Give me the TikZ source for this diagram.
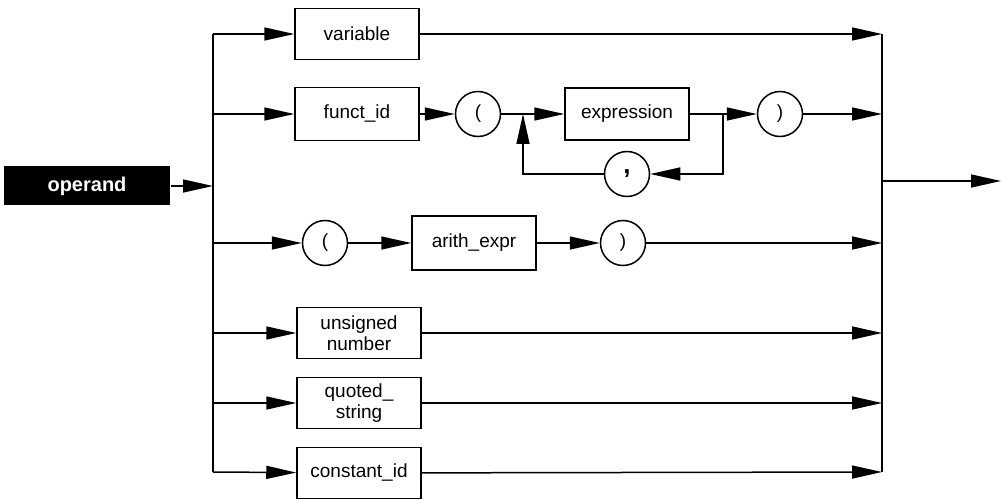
\documentclass[tikz,border=0pt]{standalone}
\usepackage{fontspec}
\setmainfont{Liberation Sans}
\usetikzlibrary{arrows.meta}
\begin{document}
\begin{tikzpicture}[x=1pt,y=-1pt,
  line width=1.5pt,
  every node/.style={font=\fontsize{19}{21}\selectfont},
  ntbox/.style={draw, rectangle, minimum width=124pt, minimum height=51pt, inner sep=0pt, align=center},
  term/.style={draw, circle, minimum size=45pt, inner sep=0pt},
  arr/.style={-{Triangle[length=30pt,width=13pt]}},
  lab/.style={fill=black, text=white, minimum width=166pt, minimum height=39pt, inner sep=0pt, font=\fontsize{20}{22}\selectfont\bfseries}
]
\useasboundingbox (0,0) rectangle (1002,500);
% start label
\node[lab] (op) at (87,186) {operand};
% bars
\coordinate (Lop) at (213,186);
\coordinate (L1) at (213,34);
\coordinate (L2) at (213,114);
\coordinate (L3) at (213,243);
\coordinate (L4) at (213,333);
\coordinate (L5) at (213,403);
\coordinate (L6) at (213,472);
\coordinate (R1) at (882,34);
\coordinate (R2) at (882,114);
\coordinate (R3) at (882,243);
\coordinate (R4) at (882,333);
\coordinate (R5) at (882,403);
\coordinate (R6) at (882,472);
\coordinate (Rout) at (882,181);
\coordinate (Out) at (1001,181);
\draw (L1) -- (L6);
\draw (R1) -- (R6);
\draw[arr] (op) -- (Lop);
\draw[arr] (Rout) -- (Out);
% row 1
\node[ntbox] (var) at (357,34) {variable};
\draw[arr] (L1) -- (var);
\draw[arr] (var) -- (R1);
% row 2
\node[ntbox, minimum height=53pt] (fid) at (357,114) {funct\_id};
\node[term] (lp1) at (478,114) {(};
\coordinate (J1) at (523,114);
\node[ntbox, minimum height=52pt] (expr) at (627,114) {expression};
\coordinate (J2) at (723,114);
\node[term] (rp1) at (780,114) {)};
\node[term] (comma) at (627,174) {\fontsize{26}{26}\selectfont\bfseries ,};
\draw[arr] (L2) -- (fid);
\draw[arr] (fid) -- (lp1);
\draw (lp1) -- (J1);
\draw[arr] (J1) -- (expr);
\draw (expr) -- (J2);
\draw[arr] (J2) -- (rp1);
\draw[arr] (rp1) -- (R2);
\draw[arr] (J2) |- (comma);
\draw[arr] (comma) -| (J1);
% row 3
\node[term] (lp2) at (325,243) {(};
\node[ntbox, minimum height=54pt] (arith) at (474,243) {arith\_expr};
\node[term] (rp2) at (623,243) {)};
\draw[arr] (L3) -- (lp2);
\draw[arr] (lp2) -- (arith);
\draw[arr] (arith) -- (rp2);
\draw[arr] (rp2) -- (R3);
% row 4-6
\node[ntbox] (uns) at (359,333) {unsigned\\number};
\node[ntbox] (quo) at (359,403) {quoted\_\\string};
\node[ntbox] (con) at (359,473) {constant\_id};
\draw[arr] (L4) -- (uns);
\draw[arr] (uns) -- (R4);
\draw[arr] (L5) -- (quo);
\draw[arr] (quo) -- (R5);
\draw[arr] (L6) -- (con);
\draw[arr] (con) -- (R6);
\end{tikzpicture}
\end{document}
